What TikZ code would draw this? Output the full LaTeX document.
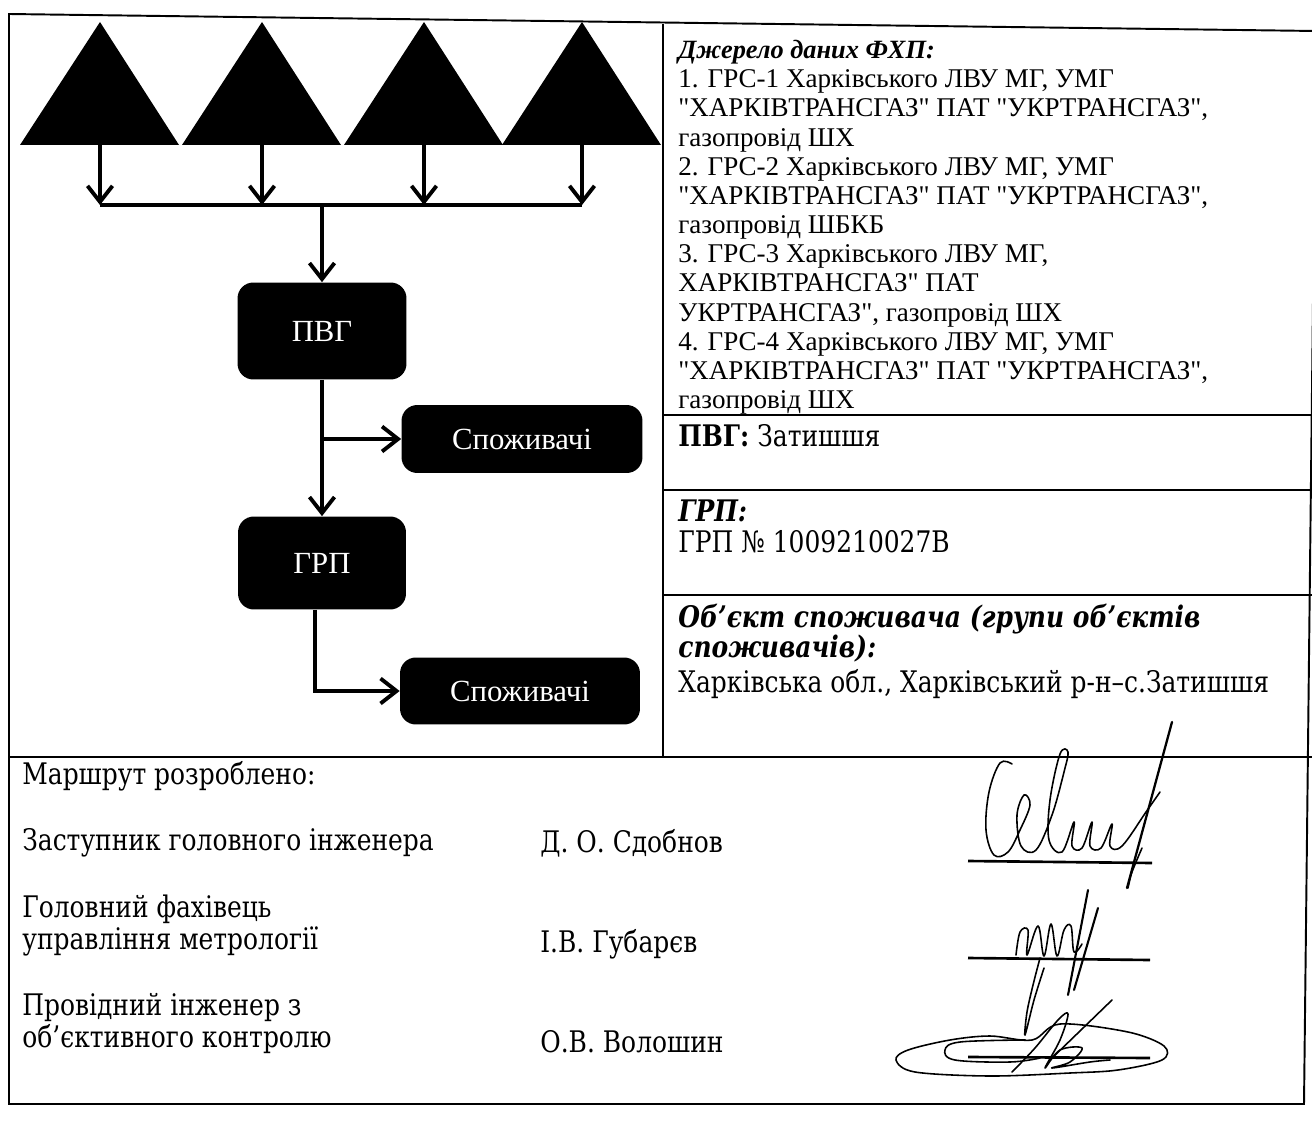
\documentclass[tikz,border=0pt]{standalone}
\usepackage{fontspec}
\setmainfont{Liberation Serif}[Ligatures=TeXOff]
\newfontfamily\cellfont{DejaVu Serif}[FakeStretch=0.84]
\usetikzlibrary{arrows.meta,calc}

\tikzset{
  pipe/.style={line width=2.2pt},
  flow/.style={pipe,-{Straight Barb[length=3.2mm,width=5mm]}},
  unit/.style={fill=black,rounded corners=9pt,text=white,inner sep=0pt,
    font=\fontsize{17.5}{20}\selectfont},
  rule/.style={line width=1.1pt},
  cell/.style={anchor=base west,inner sep=0pt,font=\cellfont\fontsize{16.9}{19}\selectfont},
  sig/.style={line width=0.9pt,line cap=round,line join=round}
}

\begin{document}
\begin{tikzpicture}[x=0.02cm,y=-0.02cm]
		\useasboundingbox (0,0) rectangle (1312,1122);
		%%%%% START %%%%%
		\draw[rule] (1316,31) -- (9,14) -- (9,1104) -- (1304,1104) -- cycle;
		\draw[rule] (663,24) -- (663,757);
		\draw[rule] (663,415) -- (1316,415);
		\draw[rule] (663,490) -- (1316,490);
		\draw[rule] (663,595) -- (1316,595);
		\draw[rule] (9,757) -- (1316,757);
		
		\foreach \n/\x in {1/100,2/262,3/424,4/582}{
			\fill (\x-80,145) -- (\x,22) -- (\x+79,145) -- cycle;
			\coordinate (src\n) at (\x,145);
		}
		\coordinate (bus) at (322,205);
		\foreach \n in {1,...,4}
			\draw[flow] (src\n) -- (src\n |- bus);
		\draw[pipe] (src1 |- bus) -- (src4 |- bus);
		
		\node[unit,minimum width=3.38cm,minimum height=1.94cm] (pvg) at (322,331) {ПВГ};
		\node[unit,minimum width=4.82cm,minimum height=1.36cm] (cons1) at (522,439) {Споживачі};
		\node[unit,minimum width=3.36cm,minimum height=1.86cm] (grp) at (322,563) {ГРП};
		\node[unit,minimum width=4.8cm,minimum height=1.34cm] (cons2) at (520,691) {Споживачі};
		
		\draw[flow] (bus) -- (pvg);
		\draw[flow] (pvg) -- (grp);
		\draw[flow] (pvg.south |- cons1.west) -- (cons1.west);
		\draw[flow] ([xshift=-0.14cm]grp.south) |- (cons2.west);
		
		\node[anchor=north west,align=left,inner sep=0pt,font=\fontsize{15.4}{16.6}\selectfont] (fxp) at (678,40)
			{{\fontsize{15}{16.6}\selectfont\textbf{\textit{Джерело даних ФХП:}}}\\
			1. ГРС-1 Харківського ЛВУ МГ, УМГ\\
			"ХАРКІВТРАНСГАЗ" ПАТ "УКРТРАНСГАЗ",\\
			газопровід ШХ\\
			2. ГРС-2 Харківського ЛВУ МГ, УМГ\\
			"ХАРКІВТРАНСГАЗ" ПАТ "УКРТРАНСГАЗ",\\
			газопровід ШБКБ\\
			3. ГРС-3 Харківського ЛВУ МГ,\\
			ХАРКІВТРАНСГАЗ" ПАТ\\
			УКРТРАНСГАЗ", газопровід ШХ\\
			4. ГРС-4 Харківського ЛВУ МГ, УМГ\\
			"ХАРКІВТРАНСГАЗ" ПАТ "УКРТРАНСГАЗ",\\
			газопровід ШХ};
		
		\node[cell] (pvgname) at (678,446) {\textbf{ПВГ:} Затишшя};
		\node[cell] (grphead) at (678,521) {\textbf{\textit{ГРП:}}};
		\node[cell] (grpname) at (678,552) {ГРП № 1009210027В};
		\node[cell] (objhead) at (678,627) {\textbf{\textit{Об’єкт споживача (групи об’єктів}}};
		\node[cell] (objhead2) at (678,657) {\textbf{\textit{споживачів):}}};
		\node[cell] (objname) at (678,692) {Харківська обл., Харківський р-н–с.Затишшя};
		
		\node[cell] (route) at (22,784) {Маршрут розроблено:};
		\node[cell] (post1) at (22,850) {Заступник головного інженера};
		\node[cell] (name1) at (540,852) {Д. О. Сдобнов};
		\node[cell] (post2) at (22,917) {Головний фахівець};
		\node[cell] (post2b) at (22,949) {управління метрології};
		\node[cell] (name2) at (540,952) {І.В. Губарєв};
		\node[cell] (post3) at (22,1015) {Провідний інженер з};
		\node[cell] (post3b) at (22,1047) {об’єктивного контролю};
		\node[cell] (name3) at (540,1052) {О.В. Волошин};
		
		\draw[line width=1.5pt] (968,861) -- (1152,863);
		\draw[line width=1.5pt] (968,958) -- (1150,960);
		\draw[line width=1.5pt] (968,1057) -- (1150,1058);
		
		% signatures
		\draw[sig] plot[smooth,tension=0.6] coordinates {(1012,764) (1000,763) (989,792) (986,830) (994,855) (1008,852)
			(1020,830) (1030,805) (1024,795) (1017,815) (1021,846) (1036,850)
			(1052,815) (1064,772) (1068,752) (1060,754) (1050,800) (1049,840) (1062,852)
			(1074,822) (1072,846) (1082,848) (1092,822) (1090,846) (1101,848) (1112,824) (1110,846) (1122,846) (1146,812) (1160,792)};
		\draw[sig,line width=1.3pt] (1172,722) -- (1127,888);
		\draw[sig] plot[smooth] coordinates {(1142,848) (1132,872) (1128,888)};
		\draw[sig] plot[smooth,tension=0.6] coordinates {(1016,955) (1020,932) (1028,930) (1027,955) (1038,926) (1044,956)
			(1051,924) (1057,956) (1064,930) (1071,926) (1074,952) (1082,944)};
		\draw[sig,line width=1.2pt] (1088,890) -- (1068,995);
		\draw[sig,line width=1.2pt] (1098,908) -- (1074,990);
		\draw[sig] plot[smooth] coordinates {(1040,958) (1033,985) (1027,1012) (1025,1035) (1034,1000) (1044,968)};
		\draw[sig] plot[smooth cycle,tension=0.55] coordinates {(1032,1040) (990,1036) (950,1040) (908,1050) (896,1060)
			(915,1072) (990,1076) (1070,1073) (1118,1070) (1162,1060) (1164,1046) (1128,1032) (1060,1024)};
		\draw[sig] plot[smooth,tension=0.6] coordinates {(1025,1040) (960,1042) (945,1050) (955,1060) (1010,1062) (1040,1058)};
		\draw[sig] plot[smooth,tension=0.6] coordinates {(1012,1072) (1035,1048) (1058,1020) (1068,1014) (1060,1040) (1045,1068)
			(1060,1050) (1082,1048) (1070,1062) (1052,1068) (1090,1062) (1110,1060)};
		\draw[sig] (1050,1060) -- (1112,1000);
		%%%%% END %%%%%
	\end{tikzpicture}
\end{document}
